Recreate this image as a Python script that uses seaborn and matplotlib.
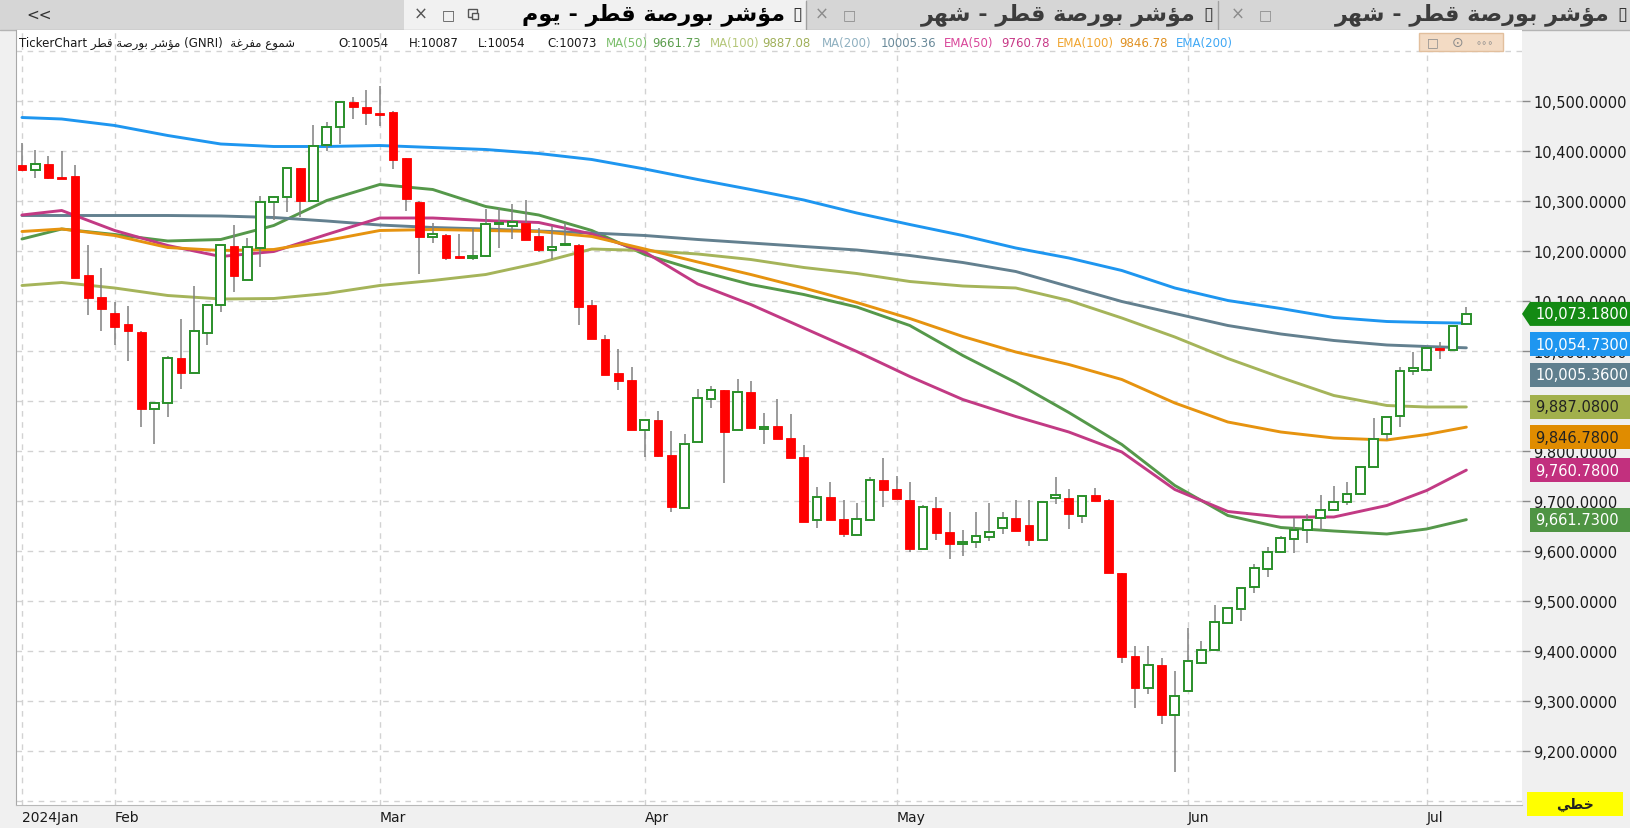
import numpy as np
import pandas as pd
import matplotlib
matplotlib.use("Agg")
import matplotlib.pyplot as plt
import matplotlib.transforms as mtransforms
from matplotlib.patches import Rectangle, Polygon
import seaborn as sns

sns.set_style("white")
plt.rcParams['font.family'] = ['DejaVu Sans']

# ---------------------------------------------------------
# Data
# ---------------------------------------------------------
opens = [10371, 10361, 10373, 10348, 10350, 10151, 10107, 10076, 10053, 10038,
         9883, 9896, 9986, 9955, 10036, 10091, 10209, 10142, 10205, 10298,
         10307, 10365, 10300, 10411, 10448, 10497, 10488, 10476, 10478, 10385,
         10298, 10228, 10232, 10190, 10185, 10190, 10253, 10250, 10256, 10230,
         10202, 10211, 10212, 10092, 10023, 9956, 9942, 9842, 9861, 9792,
         9685, 9818, 9904, 9921, 9842, 9918, 9843, 9850, 9826, 9788,
         9661, 9708, 9663, 9632, 9661, 9741, 9723, 9702, 9604, 9686,
         9638, 9614, 9617, 9628, 9646, 9665, 9651, 9622, 9706, 9705,
         9670, 9711, 9702, 9556, 9390, 9326, 9371, 9272, 9320, 9376,
         9401, 9455, 9484, 9528, 9563, 9598, 9623, 9642, 9665, 9682,
         9698, 9713, 9767, 9833, 9870, 9960, 9962, 10005, 10001, 10054]
highs = [10416, 10401, 10389, 10399, 10371, 10212, 10165, 10098, 10090, 10040,
         9896, 9990, 10063, 10130, 10093, 10211, 10251, 10225, 10309, 10310,
         10365, 10365, 10451, 10458, 10497, 10507, 10521, 10530, 10480, 10386,
         10300, 10256, 10234, 10233, 10243, 10283, 10286, 10293, 10302, 10245,
         10250, 10256, 10214, 10101, 10031, 10004, 9968, 9861, 9880, 9840,
         9833, 9924, 9930, 9921, 9943, 9940, 9876, 9903, 9873, 9812,
         9727, 9738, 9701, 9695, 9747, 9785, 9750, 9738, 9692, 9708,
         9678, 9642, 9678, 9695, 9678, 9701, 9701, 9698, 9747, 9723,
         9710, 9726, 9704, 9556, 9410, 9410, 9386, 9360, 9446, 9420,
         9492, 9485, 9526, 9573, 9608, 9630, 9665, 9673, 9711, 9729,
         9738, 9767, 9865, 9867, 9967, 9997, 10005, 10018, 10049, 10087]
lows = [10359, 10345, 10343, 10343, 10146, 10072, 10040, 10012, 9980, 9847,
        9813, 9868, 9924, 9955, 10011, 10078, 10118, 10142, 10167, 10262,
        10277, 10267, 10300, 10400, 10413, 10463, 10451, 10450, 10363, 10280,
        10153, 10216, 10181, 10183, 10181, 10188, 10206, 10223, 10222, 10198,
        10184, 10209, 10051, 10024, 9952, 9922, 9842, 9788, 9788, 9678,
        9685, 9818, 9886, 9736, 9842, 9846, 9813, 9823, 9786, 9658,
        9646, 9661, 9628, 9632, 9661, 9688, 9703, 9598, 9604, 9622,
        9584, 9590, 9606, 9620, 9634, 9640, 9610, 9622, 9693, 9643,
        9655, 9700, 9556, 9376, 9286, 9313, 9253, 9158, 9320, 9373,
        9401, 9455, 9460, 9515, 9547, 9598, 9595, 9616, 9641, 9682,
        9691, 9713, 9767, 9822, 9847, 9952, 9962, 9983, 10001, 10054]
closes = [10361, 10373, 10345, 10343, 10146, 10105, 10084, 10048, 10040, 9883,
          9896, 9986, 9955, 10040, 10091, 10211, 10150, 10208, 10298, 10308,
          10365, 10300, 10409, 10448, 10497, 10487, 10475, 10472, 10381, 10303,
          10228, 10233, 10185, 10185, 10190, 10254, 10256, 10258, 10222, 10201,
          10208, 10214, 10088, 10024, 9952, 9940, 9842, 9861, 9790, 9688,
          9813, 9905, 9921, 9838, 9918, 9846, 9848, 9823, 9786, 9658,
          9708, 9661, 9634, 9663, 9741, 9721, 9703, 9603, 9688, 9635,
          9613, 9617, 9630, 9638, 9665, 9640, 9622, 9698, 9711, 9673,
          9710, 9700, 9556, 9388, 9326, 9371, 9272, 9310, 9380, 9401,
          9458, 9485, 9526, 9566, 9598, 9625, 9642, 9662, 9682, 9698,
          9713, 9767, 9823, 9867, 9960, 9965, 10005, 10001, 10049, 10073.18]

month_idx = [0, 7, 27, 47, 66, 88, 106]
month_labels = ['2024Jan', 'Feb', 'Mar', 'Apr', 'May', 'Jun', 'Jul']

# moving averages, read every 4 sessions
ma_idx = [0, 3, 7, 11, 15, 19, 23, 27, 31, 35, 39, 43, 47, 51, 55, 59, 63, 67,
          71, 75, 79, 83, 87, 91, 95, 99, 103, 106, 109]
ma50 = [10223, 10243, 10232, 10219, 10222, 10250, 10300, 10332, 10322, 10288, 10271, 10240,
        10192, 10160, 10132, 10112, 10087, 10050, 9990, 9936, 9876, 9812, 9730, 9670,
        9646, 9639, 9633, 9643, 9661.73]
ma100 = [10130, 10136, 10125, 10110, 10103, 10104, 10114, 10130, 10140, 10152, 10175, 10203,
         10200, 10193, 10182, 10166, 10154, 10138, 10129, 10125, 10100, 10065, 10027, 9984,
         9946, 9910, 9890, 9887, 9887.08]
ma200 = [10270, 10270, 10270, 10270, 10269, 10266, 10259, 10251, 10246, 10243, 10239, 10235,
         10230, 10222, 10215, 10208, 10201, 10190, 10176, 10158, 10128, 10098, 10074, 10050,
         10033, 10020, 10011, 10008, 10005.36]
ema50 = [10271, 10280, 10240, 10210, 10188, 10198, 10232, 10265, 10265, 10260, 10256, 10233,
         10197, 10133, 10092, 10045, 9998, 9948, 9902, 9868, 9837, 9797, 9722, 9678,
         9667, 9667, 9690, 9720, 9760.78]
ema100 = [10238, 10243, 10230, 10206, 10200, 10202, 10220, 10240, 10242, 10240, 10238, 10228,
          10203, 10177, 10152, 10125, 10096, 10064, 10028, 9997, 9972, 9942, 9895, 9857,
          9837, 9825, 9821, 9832, 9846.78]
ema200 = [10466, 10463, 10450, 10430, 10413, 10408, 10408, 10410, 10406, 10402, 10394, 10382,
          10363, 10342, 10322, 10301, 10275, 10252, 10230, 10205, 10185, 10160, 10125, 10100,
          10084, 10066, 10058, 10056, 10054.73]

line_names = ['MA(50)', 'MA(100)', 'MA(200)', 'EMA(50)', 'EMA(100)', 'EMA(200)']
line_values = [ma50, ma100, ma200, ema50, ema100, ema200]
line_colors = ['#55984a', '#a5b45a', '#63808f', '#c23a84', '#e6930f', '#1e96f0']
box_colors = ['#4f9444', '#a2b04c', '#5f7f8e', '#c2307e', '#e08c00', '#1e96f0']
box_text = ['white', '#222222', 'white', 'white', '#222222', 'white']

yticks = list(range(9200, 10501, 100))
grid_prices = list(range(9100, 10601, 100))

# ---------------------------------------------------------
# Arabic shaping (matplotlib has no bidi / joining support)
# ---------------------------------------------------------
AR_FORMS = {
    'ؤ': ('\uFE85', '\uFE86'), 'ب': ('\uFE8F', '\uFE90', '\uFE91', '\uFE92'),
    'ة': ('\uFE93', '\uFE94'), 'خ': ('\uFEA5', '\uFEA6', '\uFEA7', '\uFEA8'),
    'ر': ('\uFEAD', '\uFEAE'), 'ش': ('\uFEB5', '\uFEB6', '\uFEB7', '\uFEB8'),
    'ص': ('\uFEB9', '\uFEBA', '\uFEBB', '\uFEBC'), 'ط': ('\uFEC1', '\uFEC2', '\uFEC3', '\uFEC4'),
    'ع': ('\uFEC9', '\uFECA', '\uFECB', '\uFECC'), 'غ': ('\uFECD', '\uFECE', '\uFECF', '\uFED0'),
    'ف': ('\uFED1', '\uFED2', '\uFED3', '\uFED4'), 'ق': ('\uFED5', '\uFED6', '\uFED7', '\uFED8'),
    'م': ('\uFEE1', '\uFEE2', '\uFEE3', '\uFEE4'), 'ه': ('\uFEE9', '\uFEEA', '\uFEEB', '\uFEEC'),
    'و': ('\uFEED', '\uFEEE'), 'ي': ('\uFEF1', '\uFEF2', '\uFEF3', '\uFEF4'),
}


def ar(text):
    out = []
    for i, ch in enumerate(text):
        forms = AR_FORMS.get(ch)
        if forms is None:
            out.append(ch)
            continue
        prev = text[i - 1] if i > 0 else ''
        nxt = text[i + 1] if i < len(text) - 1 else ''
        jp = prev in AR_FORMS and len(AR_FORMS[prev]) == 4
        jn = nxt in AR_FORMS and len(forms) == 4
        if jp and jn:
            out.append(forms[3])
        elif jp:
            out.append(forms[1])
        elif jn:
            out.append(forms[2])
        else:
            out.append(forms[0])
    return ''.join(reversed(out))


# ---------------------------------------------------------
# Figure
# ---------------------------------------------------------
W, H = 1631, 829
fig = plt.figure(figsize=(W / 100, H / 100), dpi=100, facecolor='#f0f0f0')

bg = fig.add_axes([0, 0, 1, 1], zorder=0)
bg.set_xlim(0, W)
bg.set_ylim(H, 0)
bg.axis('off')

ax = fig.add_axes([16 / W, 1 - 806 / H, (1522 - 16) / W, (806 - 31) / H], zorder=1)
ax.set_facecolor('white')

ov = fig.add_axes([0, 0, 1, 1], zorder=5)
ov.set_xlim(0, W)
ov.set_ylim(H, 0)
ov.axis('off')
ov.patch.set_alpha(0)

# grid
for p in grid_prices:
    ax.axhline(p, color='#d2d2d2', lw=1, ls=(0, (4, 4)), zorder=0)
for m in month_idx:
    ax.axvline(m, color='#d2d2d2', lw=1, ls=(0, (4, 4)), zorder=0)

# moving averages
ma_df = pd.DataFrame({
    'idx': np.tile(ma_idx, len(line_names)),
    'value': np.concatenate(line_values),
    'line': np.repeat(line_names, len(ma_idx)),
})
sns.lineplot(data=ma_df, x='idx', y='value', hue='line', hue_order=line_names,
             palette=dict(zip(line_names, line_colors)), linewidth=2.1,
             legend=False, ax=ax, zorder=2)

# candles
idx = np.arange(len(opens))
o = np.array(opens, dtype=float)
c = np.array(closes, dtype=float)
up = c >= o
ax.vlines(idx, lows, highs, color='#808080', lw=1.1, zorder=2.5)
ax.bar(idx[up], (c - o)[up], bottom=o[up], width=0.66, facecolor='white',
       edgecolor='#2a8f2a', linewidth=1.4, zorder=3)
ax.bar(idx[~up], (o - c)[~up], bottom=c[~up], width=0.66, color='#ff0000',
       edgecolor='#ff0000', linewidth=0.6, zorder=3)

ax.set_xlim(-0.45, 113.2)
ax.set_ylim(9091, 10641)
ax.set_xlabel('')
ax.set_ylabel('')

ax.yaxis.tick_right()
ax.set_yticks(yticks)
ax.set_yticklabels([f"{v:,.4f}" for v in yticks])
ax.tick_params(axis='y', length=6, width=1, color='#8a8a8a', labelsize=10.5,
               labelcolor='#1a1a1a', pad=2)
ax.set_xticks(month_idx)
ax.set_xticklabels(month_labels, ha='left', fontsize=10, color='#1a1a1a')
ax.tick_params(axis='x', length=0, pad=3.5)
for s in ['top', 'right']:
    ax.spines[s].set_visible(False)
ax.spines['left'].set_color('#a8a8a8')
ax.spines['bottom'].set_color('#b8b8b8')

# ---------------------------------------------------------
# Tab bar
# ---------------------------------------------------------
bg.add_patch(Rectangle((0, 0), W, 31, color='#d6d6d6', lw=0))
bg.add_patch(Rectangle((404, 1), 402, 30, color='#f1f1f1', lw=0))
bg.plot([0, W], [31, 31], color='#b4b4b4', lw=1)
for sx in [806, 1218]:
    bg.plot([sx, sx], [2, 30], color='#a0a0a0', lw=1)
bg.text(26, 15, '<<', fontsize=11, color='#333333', va='center', ha='left')

tabs = [(421, 785, ar('مؤشر بورصة قطر - يوم'), '#000000', '#555555'),
        (822, 1196, ar('مؤشر بورصة قطر - شهر'), '#3c3c3c', '#8c8c8c'),
        (1238, 1610, ar('مؤشر بورصة قطر - شهر'), '#3c3c3c', '#8c8c8c')]
for i, (x0, x1, title, tcol, icol) in enumerate(tabs):
    bg.text(x0, 15, '×', fontsize=12, color=icol, va='center', ha='center')
    bg.text(x0 + 27, 15, '□', fontsize=10, color=icol, va='center', ha='center')
    if i == 0:
        # restore-window icon (no installed font has the glyph)
        bg.add_patch(Rectangle((x0 + 47, 10), 9, 8, fill=False, edgecolor=icol, lw=1))
        bg.add_patch(Rectangle((x0 + 51, 14), 6, 6, facecolor='#f1f1f1', edgecolor=icol, lw=1))
    bg.text(x1, 15, title, fontsize=16, fontweight='bold', color=tcol, va='center', ha='right')
    bg.text(x1 + 12, 15, '▯', fontsize=13, color='#333333', va='center', ha='center')

# ---------------------------------------------------------
# Info line
# ---------------------------------------------------------
info = [(19, 'TickerChart ' + ar('مؤشر بورصة قطر') + ' (GNRI)  ' + ar('شموع مفرغة'), '#1a1a1a'),
        (338, 'O:10054', '#1a1a1a'), (409, 'H:10087', '#1a1a1a'),
        (478, 'L:10054', '#1a1a1a'), (547, 'C:10073', '#1a1a1a'),
        (606, 'MA(50)', '#7cbf6c'), (652, '9661.73', '#5c9e4e'),
        (710, 'MA(100)', '#b5c77a'), (762, '9887.08', '#a0b05a'),
        (822, 'MA(200)', '#8fb0c0'), (881, '10005.36', '#6a8a9a'),
        (944, 'EMA(50)', '#d9479a'), (1001, '9760.78', '#c83a88'),
        (1057, 'EMA(100)', '#f0a530'), (1119, '9846.78', '#e09020'),
        (1176, 'EMA(200)', '#40a8f5')]
for x, t, col in info:
    ov.text(x, 43, t, fontsize=8.5, color=col, va='center', ha='left')
ov.add_patch(Rectangle((1419, 34), 84, 18, facecolor='#f3dbc4', edgecolor='#e2bf9d', lw=1))
ov.text(1433, 43, '□', fontsize=9, color='#8c8c8c', va='center', ha='center')
ov.text(1458, 43, '⊙', fontsize=10, color='#8c8c8c', va='center', ha='center')
ov.text(1485, 43, '∘∘∘', fontsize=7, color='#8c8c8c', va='center', ha='center')

# ---------------------------------------------------------
# Last value boxes on the price axis
# ---------------------------------------------------------
trans = mtransforms.blended_transform_factory(ov.transData, ax.transData)
labels = [(closes[-1], '#138a13', 'white', True)]
labels += [(v[-1], bc, tc, False) for v, bc, tc in zip(line_values, box_colors, box_text)]
labels.sort(key=lambda r: -r[0])
step, half = 61, 24
prev = None
for val, bcol, tcol, arrow in labels:
    yc = val if prev is None else min(val, prev - step)
    prev = yc
    if arrow:
        pts = [(1522, yc), (1530, yc + half), (1630, yc + half), (1630, yc - half), (1530, yc - half)]
    else:
        pts = [(1530, yc + half), (1630, yc + half), (1630, yc - half), (1530, yc - half)]
    ov.add_patch(Polygon(pts, closed=True, facecolor=bcol, edgecolor='none', transform=trans))
    ov.text(1535, yc, f"{val:,.4f}", fontsize=10.5, color=tcol, va='center', ha='left',
            transform=trans)

# bottom-right mode box
ov.add_patch(Rectangle((1527, 793), 96, 24, facecolor='#ffff00', edgecolor='none'))
ov.text(1575, 805, ar('خطي'), fontsize=10, fontweight='bold', color='#222222',
        va='center', ha='center')

fig.savefig('out.png', dpi=100, facecolor=fig.get_facecolor())
